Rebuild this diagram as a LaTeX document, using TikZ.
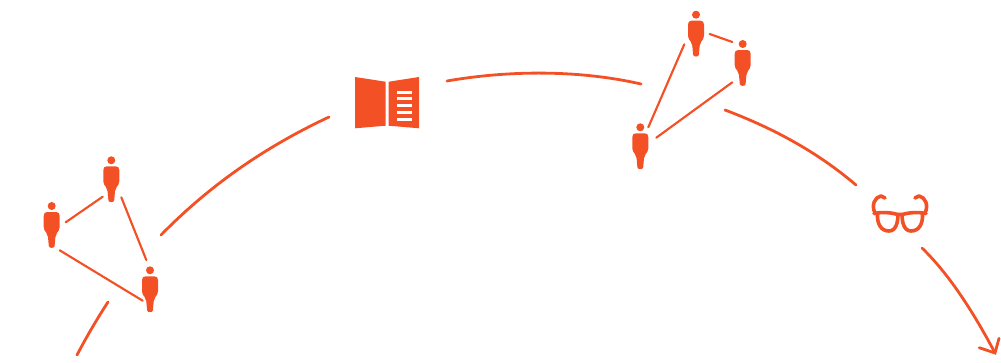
\documentclass[tikz,border=0pt]{standalone}
\definecolor{ember}{HTML}{F35026}
\tikzset{
  x=0.75pt,y=-0.75pt,
  arc/.style={draw=ember,line width=2.1pt,line cap=round},
  link/.style={draw=ember,line width=1.6pt,line cap=round},
  lens/.style={draw=ember,line width=2.7pt,line join=round,line cap=round},
  person/.pic={
    \fill[ember] (0,0) circle (4);
    \fill[ember] (-4.5,6) -- (4.5,6) .. controls (7,6) and (8,7.5) .. (8,10)
      -- (8,21) .. controls (8,24) and (6.5,25) .. (5.5,26.5)
      .. controls (4.5,28) and (3.8,29) .. (3.7,31)
      -- (2.9,40) .. controls (2.6,42.5) and (-2.6,42.5) .. (-2.9,40)
      -- (-3.7,31) .. controls (-3.8,29) and (-4.5,28) .. (-5.5,26.5)
      .. controls (-6.5,25) and (-8,24) .. (-8,21)
      -- (-8,10) .. controls (-8,7.5) and (-7,6) .. (-4.5,6) -- cycle;
  }
}
\begin{document}
\begin{tikzpicture}
\useasboundingbox (0,0) rectangle (1001,362);
% people
\pic at (111.3,160.3) {person};
\pic at (51.7,206) {person};
\pic at (150,270.3) {person};
\pic at (696,14.7) {person};
\pic at (742.7,44) {person};
\pic at (640.3,127.3) {person};
% link ends
\coordinate (a1) at (65.7,222.3); \coordinate (a2) at (102.7,196.7);
\coordinate (b1) at (121.3,197.3); \coordinate (b2) at (146.3,260);
\coordinate (c1) at (59.7,250.3); \coordinate (c2) at (142.7,300.7);
\coordinate (d1) at (709.7,34); \coordinate (d2) at (732.3,42);
\coordinate (e1) at (684.3,44.3); \coordinate (e2) at (648.3,127.3);
\coordinate (f1) at (732.3,82.3); \coordinate (f2) at (656.3,137.7);
\draw[link] (a1) -- (a2);
\draw[link] (b1) -- (b2);
\draw[link] (c1) -- (c2);
\draw[link] (d1) -- (d2);
\draw[link] (e1) -- (e2);
\draw[link] (f1) -- (f2);
% arcs
\coordinate (g0) at (77,355); \coordinate (g1) at (108,302);
\coordinate (h0) at (161,235); \coordinate (h1) at (329,117);
\coordinate (i0) at (447,81); \coordinate (i1) at (641,84);
\coordinate (j0) at (725,110); \coordinate (j1) at (856,185);
\coordinate (k0) at (922,248); \coordinate (k1) at (995,353);
\coordinate (k2) at (979.3,347.7); \coordinate (k3) at (999,338.3);
\draw[arc] (g0) .. controls (87,336) and (97,319) .. (g1);
\draw[arc] (h0) .. controls (210,185) and (265,147) .. (h1);
\draw[arc] (i0) .. controls (510,70) and (580,70) .. (i1);
\draw[arc] (j0) .. controls (770,127) and (815,150) .. (j1);
\draw[arc] (k0) .. controls (950,275) and (975,315) .. (k1);
\draw[arc,line join=miter] (k2) -- (k1) -- (k3);
% book
\fill[ember] (355,77) -- (385.7,81.7) -- (385.7,125.7) -- (355,128.3) -- cycle;
\fill[ember] (388.7,81.7) -- (419,77) -- (419,128.3) -- (388.7,125.7) -- cycle;
\foreach \yy in {92,98.8,105.7,112.4,119.3}
  \fill[white] (396.7,\yy-1.5) rectangle (411.7,\yy+1.5);
% glasses
\draw[lens] (874,213.5) .. controls (884,211.5) and (892,213) .. (898,214.5)
  -- (902,214.5) .. controls (908,213) and (916,211.5) .. (926,213.5);
\draw[lens] (877.5,214) .. controls (877,224) and (881,231) .. (889,231)
  .. controls (896,231) and (898,222) .. (898,214.5);
\draw[lens] (902,214.5) .. controls (902,222) and (904,231) .. (911,231)
  .. controls (919,231) and (923,224) .. (922.5,214);
\draw[lens] (875,213) .. controls (871,205) and (875,197) .. (881,196) -- (885,198);
\draw[lens] (925,213) .. controls (929,205) and (925,197) .. (919,196) -- (915,198);
\end{tikzpicture}
\end{document}
